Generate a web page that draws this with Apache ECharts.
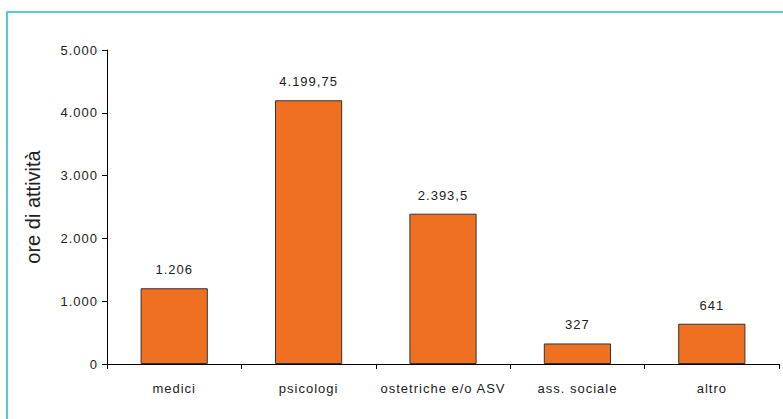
<!DOCTYPE html>
<html><head><meta charset="utf-8">
<script src="https://cdn.jsdelivr.net/npm/echarts@6/dist/echarts.min.js"></script>
<style>html,body{margin:0;padding:0;background:#fff}#box{position:absolute;left:6px;top:11px;width:800px;height:420px;border:2px solid #5cc9d1;box-sizing:border-box}#c{position:absolute;left:0;top:0;width:783px;height:419px}
#c svg text{letter-spacing:1px}
#c svg text[transform*="rotate"], #c svg text[transform*="matrix(0"]{letter-spacing:0}</style>
</head><body><div id="box"></div><div id="c"></div>
<script>
var categories = ["medici", "psicologi", "ostetriche e/o ASV", "ass. sociale", "altro"];
var values = [1206, 4199.75, 2393.5, 327, 641];
var valueLabels = ["1.206", "4.199,75", "2.393,5", "327", "641"];
var yTicks = ["0", "1.000", "2.000", "3.000", "4.000", "5.000"];
var chart = echarts.init(document.getElementById('c'), null, {renderer: 'svg'});
var font = 'Liberation Sans, Arial, sans-serif';
chart.setOption({
  animation: false,
  grid: {left: 107, right: 4, top: 50, bottom: 55},
  xAxis: {
    type: 'category', data: categories,
    axisLine: {lineStyle: {color: '#000', width: 1}},
    axisTick: {show: true, alignWithLabel: false, length: 5, lineStyle: {color: '#000'}},
    axisLabel: {color: '#222', fontFamily: font, fontSize: 13, margin: 18, interval: 0, hideOverlap: false}
  },
  yAxis: {
    type: 'value', min: 0, max: 5000, interval: 1000,
    name: 'ore di attività', nameLocation: 'middle', nameGap: 64, nameRotate: 90,
    nameTextStyle: {color: '#222', fontFamily: font, fontSize: 20},
    axisLine: {show: true, lineStyle: {color: '#000', width: 1}},
    axisTick: {show: true, length: 5, lineStyle: {color: '#000'}},
    splitLine: {show: false},
    axisLabel: {color: '#222', fontFamily: font, fontSize: 13, margin: 9,
      formatter: function (v) { return yTicks[Math.round(v / 1000)]; }}
  },
  series: [{
    type: 'bar', data: values, barWidth: '50%',
    itemStyle: {color: '#f07021', borderColor: '#333', borderWidth: 1},
    label: {show: true, position: 'top', distance: 12, color: '#222', fontFamily: font, fontSize: 13,
      formatter: function (p) { return valueLabels[p.dataIndex]; }}
  }]
});
</script></body></html>
